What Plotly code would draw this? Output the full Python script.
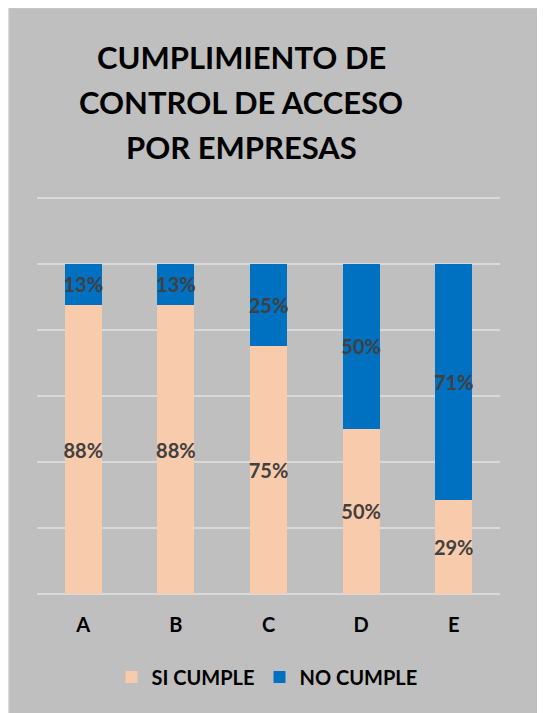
import plotly.graph_objects as go

# Data
empresas = ["A", "B", "C", "D", "E"]
si_cumple = [0.875, 0.875, 0.75, 0.50, 0.2857]
no_cumple = [0.125, 0.125, 0.25, 0.50, 0.7143]
si_labels = ["88%", "88%", "75%", "50%", "29%"]
no_labels = ["13%", "13%", "25%", "50%", "71%"]
series_names = ["SI CUMPLE", "NO CUMPLE"]
title_lines = ["CUMPLIMIENTO DE", "CONTROL DE ACCESO", "POR EMPRESAS"]

W, H = 545, 713
OFF = 8  # page body margin
YMAX = 1.205
L, R, T, B = 29, 53, 188, 127
pw, ph = W - L - R, H - T - B

def px_x(x):  # page pixel -> paper
    return (x - OFF - L) / pw

def px_y(y):
    return (H - B - (y - OFF)) / ph

FONT = "Lato"
label_font = dict(family=FONT, size=20, color="#404040")

fig = go.Figure()
fig.add_trace(go.Bar(
    x=empresas, y=si_cumple, name=f"<b>{series_names[0]}</b>",
    marker=dict(color="#F8CBAD", line=dict(width=0)),
    text=si_labels, texttemplate="<b>%{text}</b>",
    textposition="inside", insidetextanchor="middle",
    constraintext="none", textangle=0, textfont=label_font,
    hoverinfo="skip",
))
fig.add_trace(go.Bar(
    x=empresas, y=no_cumple, name=f"<b>{series_names[1]}</b>",
    marker=dict(color="#0070C0", line=dict(width=0)),
    text=no_labels, texttemplate="<b>%{text}</b>",
    textposition="inside", insidetextanchor="middle",
    constraintext="none", textangle=0, textfont=label_font,
    hoverinfo="skip",
))

annotations = []
for i, line in enumerate(title_lines):
    annotations.append(dict(
        text=f"<b>{line}</b>", xref="paper", yref="paper",
        x=px_x(241), y=px_y(57 + 45 * i), xanchor="center", yanchor="middle",
        showarrow=False, font=dict(family=FONT, size=31, color="#000000"),
    ))

fig.update_layout(
    width=W, height=H,
    margin=dict(l=L, r=R, t=T, b=B, pad=0),
    paper_bgcolor="#BFBFBF",
    plot_bgcolor="rgba(0,0,0,0)",
    barmode="stack",
    bargap=0.6,
    showlegend=True,
    legend=dict(
        orientation="h", x=px_x(267), xanchor="center",
        y=px_y(677), yanchor="middle",
        font=dict(family=FONT, size=20, color="#000000"),
        bgcolor="rgba(0,0,0,0)", traceorder="normal",
    ),
    annotations=annotations,
    shapes=[dict(
        type="rect", xref="paper", yref="paper",
        x0=px_x(8.5), x1=px_x(W + 20), y0=px_y(H + 20), y1=px_y(7.5),
        fillcolor="rgba(0,0,0,0)", line=dict(color="#D9D9D9", width=1.5),
        layer="below",
    )],
    xaxis=dict(
        showgrid=False, zeroline=False, showline=False,
        ticks="", ticklabelstandoff=17,
        tickfont=dict(family=FONT, size=20, color="#000000"),
        tickprefix="<b>", ticksuffix="</b>",
    ),
    yaxis=dict(
        range=[0, YMAX], dtick=0.2, tick0=0,
        showticklabels=False, showgrid=True,
        gridcolor="#D9D9D9", gridwidth=1.5,
        zeroline=True, zerolinecolor="#D9D9D9", zerolinewidth=1.5,
        showline=False,
    ),
    font=dict(family=FONT),
)

fig.write_html("out.html")
